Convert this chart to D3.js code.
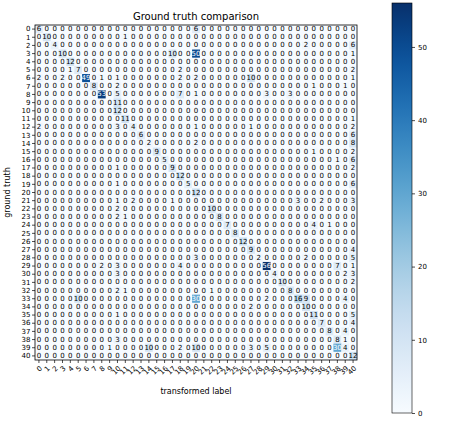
<!DOCTYPE html>
<html><head><meta charset="utf-8">
<script src="https://cdn.jsdelivr.net/npm/d3@7/dist/d3.min.js"></script>
<style>body{margin:0;background:#fff}text{font-family:"DejaVu Sans",sans-serif}</style>
</head><body><svg id="c" width="457" height="421"></svg>
<script>
const classLabels = ["0","1","2","3","4","5","6","7","8","9","10","11","12","13","14","15","16","17","18","19","20",
  "21","22","23","24","25","26","27","28","29","30","31","32","33","34","35","36","37","38","39","40"];
// [ground truth row, transformed label column, count]
const cells = [
 [0,0,6],[0,20,6],
 [1,1,10],[1,11,1],
 [2,2,4],[2,34,2],[2,40,6],
 [3,3,10],[3,17,10],[3,20,50],[3,40,1],
 [4,4,12],
 [5,4,1],[5,5,7],[5,18,2],[5,40,2],
 [6,0,2],[6,3,2],[6,6,49],[6,8,1],[6,10,1],[6,18,2],[6,20,2],[6,27,10],[6,40,1],
 [7,7,8],[7,10,2],[7,35,1],[7,39,1],
 [8,8,53],[8,10,5],[8,18,7],[8,20,1],[8,29,3],[8,32,3],
 [9,10,11],
 [10,10,12],
 [11,11,11],[11,40,1],
 [12,0,2],[12,10,3],[12,12,4],[12,20,1],[12,27,1],[12,40,2],
 [13,13,6],[13,40,6],
 [14,14,2],[14,20,2],[14,40,8],
 [15,15,9],[15,35,1],[15,40,2],
 [16,16,5],[16,38,1],[16,40,6],
 [17,10,1],[17,17,9],[17,40,2],
 [18,18,12],
 [19,10,1],[19,19,5],[19,40,6],
 [20,20,12],
 [21,10,1],[21,12,2],[21,17,1],[21,33,3],[21,36,2],[21,40,3],
 [22,10,2],[22,22,10],
 [23,10,2],[23,11,1],[23,23,8],
 [24,24,7],[24,35,4],[24,37,1],
 [25,25,8],
 [26,26,12],
 [27,27,9],[27,40,4],
 [28,20,3],[28,28,2],[28,34,2],[28,40,5],
 [29,8,2],[29,10,3],[29,18,4],[29,29,56],[29,38,7],[29,40,1],
 [30,10,3],[30,30,4],[30,39,2],[30,40,3],
 [31,31,10],[31,40,2],
 [32,10,2],[32,11,1],[32,22,1],[32,32,8],
 [33,5,10],[33,20,30],[33,29,2],[33,33,16],[33,34,9],[33,39,4],
 [34,27,2],[34,34,10],
 [35,10,1],[35,35,11],[35,40,5],
 [36,36,7],[36,40,4],
 [37,37,8],[37,39,4],
 [38,10,3],[38,38,8],[38,39,1],
 [39,9,1],[39,14,10],[39,18,2],[39,20,10],[39,27,3],[39,29,5],[39,38,30],[39,39,4],
 [40,40,12]
];
const colorTicks = [0,10,20,30,40,50];
const titleText = "Ground truth comparison";
const xLabelText = "transformed label";
const yLabelText = "ground truth";

const grid = [];
const lookup = new Map(cells.map(d => [d[0]+"_"+d[1], d[2]]));
classLabels.forEach((rl, r) => classLabels.forEach((cl, c) => {
  grid.push({r: rl, c: cl, v: lookup.get(r+"_"+c) || 0});
}));
const vmax = d3.max(cells, d => d[2]);

const svg = d3.select("#c");
const L = 35, R = 357, T = 25, B = 360;
const x = d3.scaleBand().domain(classLabels).range([L, R]);
const y = d3.scaleBand().domain(classLabels).range([T, B]);
const color = d3.scaleSequential(d3.interpolateBlues).domain([0, vmax]);

svg.append("g").selectAll("rect").data(grid).join("rect")
  .attr("x", d => x(d.c)).attr("y", d => y(d.r))
  .attr("width", x.bandwidth() + 0.3).attr("height", y.bandwidth() + 0.3)
  .attr("fill", d => color(d.v));

svg.append("g").selectAll("text").data(grid).join("text")
  .attr("x", d => x(d.c) + x.bandwidth() / 2)
  .attr("y", d => y(d.r) + y.bandwidth() / 2)
  .attr("text-anchor", "middle").attr("dominant-baseline", "central")
  .attr("font-size", 7)
  .attr("fill", d => d.v > vmax / 2 ? "#fff" : "#000")
  .text(d => d.v);

svg.append("rect").attr("x", L).attr("y", T).attr("width", R - L).attr("height", B - T)
  .attr("fill", "none").attr("stroke", "#000").attr("stroke-width", 0.8);

const ya = svg.append("g").attr("transform", `translate(${L},0)`)
  .call(d3.axisLeft(y).tickSize(3).tickPadding(1.5));
ya.select(".domain").remove();
ya.selectAll("text").attr("font-size", 7).attr("font-family", "DejaVu Sans");
ya.selectAll("line").attr("stroke-width", 0.7);

const xa = svg.append("g").attr("transform", `translate(0,${B})`)
  .call(d3.axisBottom(x).tickSize(3));
xa.select(".domain").remove();
xa.selectAll("line").attr("stroke-width", 0.7);
xa.selectAll("text").attr("font-size", 7).attr("font-family", "DejaVu Sans")
  .attr("x", 0).attr("y", 0).attr("dy", "0.35em")
  .attr("text-anchor", "end")
  .attr("transform", "translate(2,7) rotate(-45)");

svg.append("text").attr("x", (L + R) / 2).attr("y", 20).attr("text-anchor", "middle")
  .attr("font-size", 10).text(titleText);
svg.append("text").attr("x", (L + R) / 2).attr("y", 394).attr("text-anchor", "middle")
  .attr("font-size", 8).text(xLabelText);
svg.append("text").attr("transform", `translate(10,${(T + B) / 2}) rotate(-90)`)
  .attr("text-anchor", "middle").attr("font-size", 8).text(yLabelText);

// colorbar
const cbX = 392, cbW = 20, cbT = 3, cbB = 413;
const defs = svg.append("defs");
const grad = defs.append("linearGradient").attr("id", "cbg")
  .attr("x1", 0).attr("y1", 1).attr("x2", 0).attr("y2", 0);
d3.range(0, 1.0001, 0.05).forEach(t => grad.append("stop")
  .attr("offset", t).attr("stop-color", d3.interpolateBlues(t)));
svg.append("rect").attr("x", cbX).attr("y", cbT).attr("width", cbW).attr("height", cbB - cbT)
  .attr("fill", "url(#cbg)").attr("stroke", "#000").attr("stroke-width", 0.6);
const cs = d3.scaleLinear().domain([0, vmax]).range([cbB, cbT]);
const ca = svg.append("g").attr("transform", `translate(${cbX + cbW},0)`)
  .call(d3.axisRight(cs).tickValues(colorTicks).tickSize(3).tickPadding(3));
ca.select(".domain").remove();
ca.selectAll("text").attr("font-size", 7).attr("font-family", "DejaVu Sans");
ca.selectAll("line").attr("stroke-width", 0.7);
</script></body></html>
